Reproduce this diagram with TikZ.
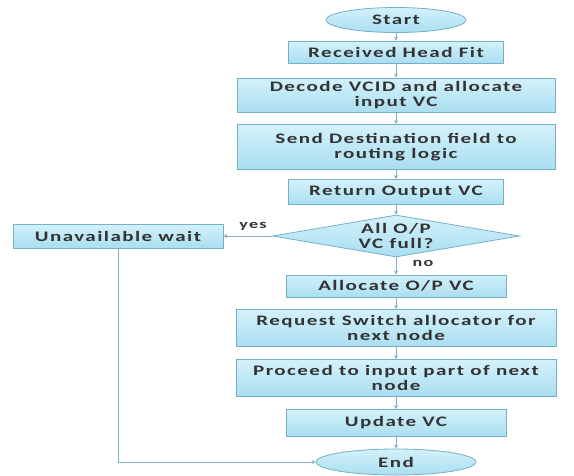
\documentclass[tikz,border=0pt]{standalone}
\usepackage{fontspec}
\newfontfamily\flowfont[FakeStretch=1.45,LetterSpace=10]{Carlito}
\usetikzlibrary{shapes.geometric,arrows.meta}
\definecolor{boxline}{HTML}{74B1C6}
\definecolor{boxtop}{HTML}{D4F1FB}
\definecolor{boxbot}{HTML}{A9DEF0}
\definecolor{flowline}{HTML}{84B0C1}
\definecolor{flowtext}{HTML}{333333}
\tikzset{
  boxtext/.style={align=center, text=flowtext,
    font=\flowfont\bfseries\fontsize{14.5}{15.5}\selectfont},
  stepbox/.style={boxtext, draw=boxline, line width=0.8pt, top color=boxtop, bottom color=boxbot,
    minimum width=#1, inner sep=1pt},
  stepbox/.default=215pt,
  termbox/.style={stepbox, ellipse, minimum height=25pt, minimum width=#1},
  flowarrow/.style={draw=flowline, line width=0.8pt, -{Stealth[length=4pt,width=4pt]}},
  flowlabel/.style={text=flowtext, font=\flowfont\bfseries\fontsize{12.5}{14}\selectfont, inner sep=0pt}
}
\begin{document}
\begin{tikzpicture}[x=1pt,y=-1pt]
\useasboundingbox (0,0) rectangle (574,475);

% Terminals and steps
\node (start) [termbox=140pt] at (396,20) {Start};
\node (recv) [stepbox=215pt, minimum height=22pt] at (396,52) {Received Head Fit};
\node (decode) [stepbox=318pt, minimum height=34pt] at (396,95) {Decode VCID and allocate\\input VC};
\node (send) [stepbox=318pt, minimum height=45pt] at (396,147) {Send Destination field to\\routing logic};
\node (ret) [stepbox=215pt, minimum height=25pt] at (396,192) {Return Output VC};

% Decision
\node (dec) [diamond, draw=boxline, line width=0.8pt, top color=boxtop, bottom color=boxbot,
  minimum width=247pt, minimum height=42pt, aspect=5.9, inner sep=0pt] at (396,236) {};
\node (dectext) [boxtext, inner sep=0pt] at (dec) {All O/P\\VC full?};
\node (wait) [stepbox=210pt, minimum height=24pt] at (118,236) {Unavailable wait};

\node (alloc) [stepbox=220pt, minimum height=22pt] at (396,286) {Allocate O/P VC};
\node (req) [stepbox=320pt, minimum height=37pt] at (396,328) {Request Switch allocator for\\next node};
\node (proc) [stepbox=320pt, minimum height=37pt] at (396,378) {Proceed to input part of next\\node};
\node (upd) [stepbox=220pt, minimum height=27pt] at (396,423) {Update VC};
\node (end) [termbox=160pt, minimum height=26pt] at (396,462) {End};

% Connectors
\draw [flowarrow] (start) -- (recv);
\draw [flowarrow] (recv) -- (decode);
\draw [flowarrow] (decode) -- (send);
\draw [flowarrow] (send) -- (ret);
\draw [flowarrow] (ret) -- (dec.north);
\draw [flowarrow] (dec.west) -- (wait.east);
\draw [flowarrow] (dec.south) -- (alloc);
\draw [flowarrow] (alloc) -- (req);
\draw [flowarrow] (req) -- (proc);
\draw [flowarrow] (proc) -- (upd);
\draw [flowarrow] (upd) -- (end);
\draw [flowarrow] (wait.south) |- (end.west);

% Branch labels
\node (yes) [flowlabel] at (253,226) {yes};
\node (no) [flowlabel] at (423,263) {no};
\end{tikzpicture}
\end{document}
